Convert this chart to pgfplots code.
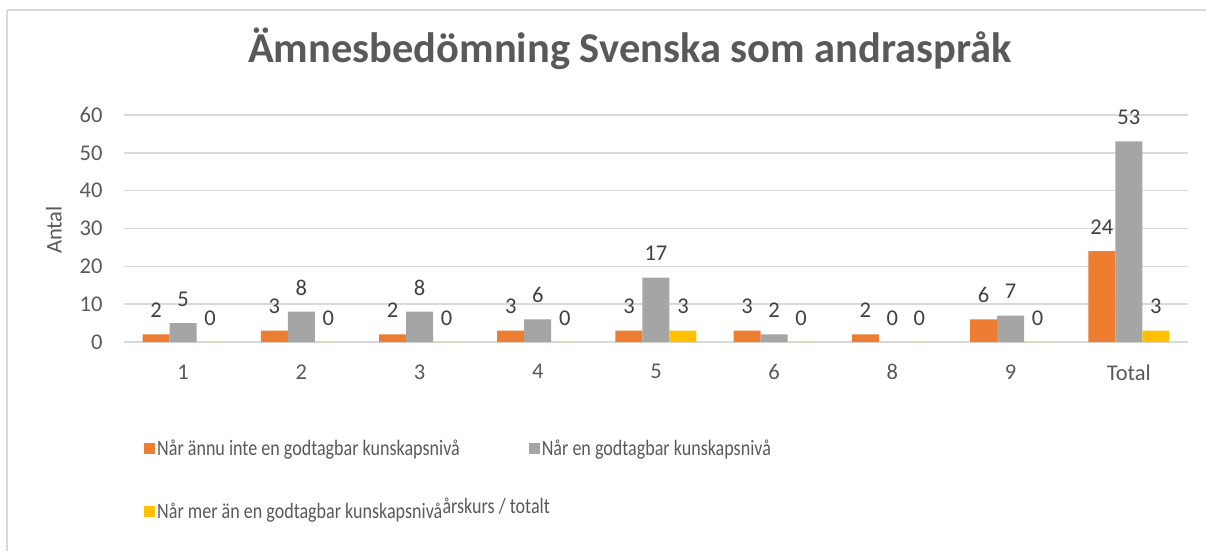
\documentclass[border=0pt]{standalone}
\usepackage{fontspec}
\setmainfont{Carlito}
\newfontfamily\legfont[FakeStretch=0.82]{Carlito}
\usepackage{pgfplots}
\pgfplotsset{compat=1.18}
\definecolor{ctext}{HTML}{595959}
\definecolor{clabel}{HTML}{404040}
\definecolor{cgrid}{HTML}{D9D9D9}
\definecolor{corange}{HTML}{ED7D31}
\definecolor{cgray}{HTML}{A5A5A5}
\definecolor{cyellow}{HTML}{FFC000}
\begin{document}
\begin{tikzpicture}
\useasboundingbox (0,0) rectangle (1206pt,-551pt);
\draw[cgrid, line width=2pt] (7pt,-10pt) -- (1206pt,-10pt);
\draw[cgrid, line width=2pt] (7pt,-10pt) -- (7pt,-551pt);
\node[font=\fontsize{42.5}{50}\selectfont\bfseries, text=ctext, anchor=base] at (630pt,-63pt) {Ämnesbedömning Svenska som andraspråk};
\begin{axis}[
  at={(124pt,-342pt)}, anchor=south west,
  scale only axis, width=1064pt, height=227pt,
  ymin=0, ymax=60, ytick={0,10,...,60},
  xmin=-0.5, xmax=8.5, xtick={0,...,8},
  xticklabels={1,2,3,4,5,6,8,9,Total},
  axis line style={draw=none},
  ymajorgrids, grid style={cgrid, line width=1.5pt},
  major tick length=0pt,
  tick label style={font=\fontsize{22.5}{26}\selectfont, text=ctext},
  xticklabel style={yshift=-19pt},
  yticklabel style={xshift=-18pt},
  /pgf/number format/assume math mode=true,
  ybar=0pt, bar width=27pt,
  nodes near coords,
  nodes near coords style={font=\fontsize{22.5}{26}\selectfont, text=clabel, anchor=center, yshift=24pt},
  legend columns=2,
  legend cell align=left,
  legend image code/.code={\fill[#1] (0pt,-5.5pt) rectangle (11pt,5.5pt);},
  legend style={draw=none, fill=none, at={(axis description cs:0.016,-0.413)}, anchor=north west,
    font=\legfont\fontsize{22}{26}\selectfont, text=ctext, row sep=42pt,
    /tikz/every even column/.append style={column sep=67pt}},
]
\addplot[fill=corange, draw=none] coordinates {(0,2) (1,3) (2,2) (3,3) (4,3) (5,3) (6,2) (7,6) (8,24)};
\addplot[fill=cgray, draw=none] coordinates {(0,5) (1,8) (2,8) (3,6) (4,17) (5,2) (6,0) (7,7) (8,53)};
\addplot[fill=cyellow, draw=none] coordinates {(0,0) (1,0) (2,0) (3,0) (4,3) (5,0) (6,0) (7,0) (8,3)};
\legend{Når ännu inte en godtagbar kunskapsnivå, Når en godtagbar kunskapsnivå, Når mer än en godtagbar kunskapsnivå}
\end{axis}
\node[anchor=west, font=\legfont\fontsize{22}{26}\selectfont, text=ctext] at (439pt,-506pt) {årskurs / totalt};
\node[rotate=90, font=\fontsize{22.5}{26}\selectfont, text=ctext] at (54pt,-230pt) {Antal};
\end{tikzpicture}
\end{document}
